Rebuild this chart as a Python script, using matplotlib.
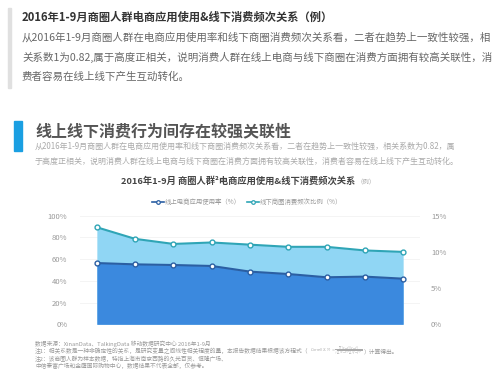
import matplotlib
matplotlib.use("Agg")
import matplotlib.pyplot as plt
from matplotlib.patches import Rectangle

plt.rcParams['font.family'] = ['Noto Sans CJK SC', 'DejaVu Sans']

months = ["1月", "2月", "3月", "4月", "5月", "6月", "7月", "8月", "9月"]
online_rate = [56.4, 55.2, 54.6, 53.7, 48.5, 46.3, 43.3, 43.9, 42.0]      # left axis, %
offline_freq = [13.4, 11.8, 11.1, 11.3, 11.0, 10.7, 10.7, 10.2, 10.0]    # right axis, %
left_ticks = [0, 20, 40, 60, 80, 100]
right_ticks = [0, 5, 10, 15]
series_names = ["线上电商应用使用率（%）", "线下商圈消费频次比例（%）"]

W, H = 500, 388
fig = plt.figure(figsize=(W / 100, H / 100), dpi=100)
fig.patch.set_facecolor("white")
renderer = fig.canvas.get_renderer()

def fx(x):
    return x / W

def fy(y):
    return 1 - y / H

def txt(x, y, s, **kw):
    kw.setdefault("va", "center")
    kw.setdefault("ha", "left")
    return fig.text(fx(x), fy(y), s, **kw)

def right_edge(t):
    return t.get_window_extent(renderer=renderer).x1

# decorative bars
fig.patches.append(Rectangle((fx(8), fy(88)), fx(2.5), (88 - 8) / H, transform=fig.transFigure,
                             color="#e0e0e0", zorder=0))
fig.patches.append(Rectangle((fx(14), fy(151)), fx(8), (151 - 121) / H, transform=fig.transFigure,
                             color="#1a9fe2", zorder=0))

# top article text
txt(22, 17, "2016年1-9月商圈人群电商应用使用&线下消费频次关系（例）", fontsize=8.1,
    fontweight="bold", color="#333333")
para = ["从2016年1-9月商圈人群在电商应用使用率和线下商圈消费频次关系看，二者在趋势上一致性较强，相",
        "关系数1为0.82,属于高度正相关，说明消费人群在线上电商与线下商圈在消费方面拥有较高关联性，消",
        "费者容易在线上线下产生互动转化。"]
for i, line in enumerate(para):
    txt(22, 37 + 20 * i, line, fontsize=7.55, color="#666666")

# section heading
txt(35, 131, "线上线下消费行为间存在较强关联性", fontsize=11.5, fontweight="bold", color="#555555")
sub = ["从2016年1-9月商圈人群在电商应用使用率和线下商圈消费频次关系看，二者在趋势上一致性较强，相关系数为0.82，属",
       "于高度正相关，说明消费人群在线上电商与线下商圈在消费方面拥有较高关联性，消费者容易在线上线下产生互动转化。"]
for i, line in enumerate(sub):
    txt(35, 146 + 15 * i, line, fontsize=5.75, color="#aaaaaa")

# chart title
t_title = txt(121, 181, "2016年1-9月 商圈人群²电商应用使用&线下消费频次关系", fontsize=6.7,
              fontweight="bold", color="#444444")
txt(right_edge(t_title) + 1, 182, "（例）", fontsize=4.6, color="#aaaaaa")

# axes
ax_l, ax_r, ax_t, ax_b = 80, 420, 215.7, 324.3
ax2 = fig.add_axes([fx(ax_l), fy(ax_b), (ax_r - ax_l) / W, (ax_b - ax_t) / H])
ax = ax2.twinx()
ax.yaxis.tick_left()
ax2.yaxis.tick_right()
ax.set_zorder(ax2.get_zorder() + 1)
ax.patch.set_visible(False)

x = list(range(len(months)))
dark_fill = "#3b89de"
light_fill = "#90d6f4"
dark_line = "#2b5fa3"
teal_line = "#2fa5b6"

ax2.fill_between(x, 0, offline_freq, color=light_fill, lw=0, zorder=1)
ax2.plot(x, offline_freq, color=teal_line, lw=1.5, marker="o", ms=3.5, mfc="white",
         mec=teal_line, mew=1.0, zorder=3)
ax.fill_between(x, 0, online_rate, color=dark_fill, lw=0, zorder=1)
ax.plot(x, online_rate, color=dark_line, lw=1.5, marker="o", ms=3.5, mfc="white",
        mec=dark_line, mew=1.0, zorder=3)

xlim = (-0.44, len(months) - 1 + 0.44)
for a in (ax, ax2):
    a.set_xlim(*xlim)
    for s in a.spines.values():
        s.set_visible(False)

ax.set_ylim(0, 100)
ax.set_yticks(left_ticks)
ax.set_yticklabels([f"{t}%" for t in left_ticks], fontsize=5.5, color="#999999")
ax.tick_params(axis="y", length=0, pad=9)

ax2.set_ylim(0, 15)
ax2.set_yticks(right_ticks)
ax2.set_yticklabels([f"{t}%" for t in right_ticks], fontsize=5.5, color="#999999")
ax2.tick_params(axis="y", length=0, pad=8)
ax2.set_xticks(x)
ax2.set_xticklabels(months, fontsize=5.5, color="#999999")
ax2.tick_params(axis="x", length=0, pad=4)
ax.set_xticks([])

for t in left_ticks:
    ax2.axhline(t * 15 / 100, color="#f2f2f2", lw=0.6, zorder=0)

# legend
lx = [152, 247]
colors = [dark_line, teal_line]
for i in range(2):
    fig.add_artist(plt.Line2D([fx(lx[i]), fx(lx[i] + 11.5)], [fy(201.5), fy(201.5)],
                              transform=fig.transFigure, color=colors[i], lw=1.2))
    fig.add_artist(plt.Line2D([fx(lx[i] + 5.75)], [fy(201.5)], transform=fig.transFigure, marker="o",
                              ms=2.6, mfc="white", mec=colors[i], mew=0.9, color=colors[i]))
    txt(lx[i] + 12.5, 201.5, series_names[i], fontsize=4.6, color="#999999")

# footnotes
foot = ["数据来源：XinanData、TalkingData 移动数据研究中心 2016年1-9月",
        "注1：相关系数是一种非确定性的关系，是研究变量之间线性相关程度的量，本报告数据结果根据该方程式（",
        "注2：该商圈人群为样本数据，特指上海市南京西路的久光百货、恒隆广场、",
        "中信泰富广场和金鹰国际购物中心，数据结果不代表全部，仅参考。"]
foot_texts = []
for i, line in enumerate(foot):
    foot_texts.append(txt(35, 344 + 7.2 * i, line, fontsize=4.15, color="#999999"))
t_formula = txt(right_edge(foot_texts[1]) + 1, 351.2,
                r"$Correl(X,Y)=\frac{\sum(x-\bar{x})(y-\bar{y})}{\sqrt{\sum(x-\bar{x})^2\sum(y-\bar{y})^2}}$",
                fontsize=2.6, color="#aaaaaa")
txt(right_edge(t_formula) + 1, 351.2, "）计算得出。", fontsize=4.15, color="#999999")

fig.savefig("out.png", dpi=100, facecolor="white")
